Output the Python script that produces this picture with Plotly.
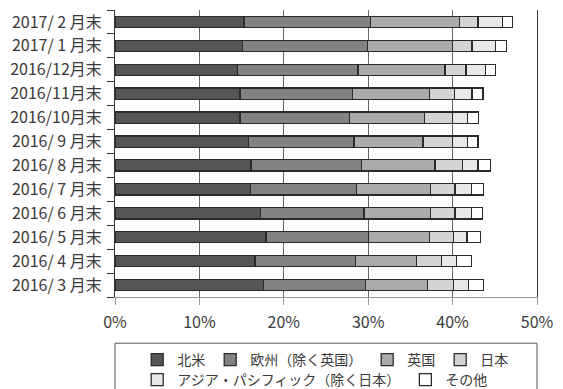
import plotly.graph_objects as go

categories = ["2016/ 3 月末", "2016/ 4 月末", "2016/ 5 月末", "2016/ 6 月末", "2016/ 7 月末",
              "2016/ 8 月末", "2016/ 9 月末", "2016/10月末", "2016/11月末", "2016/12月末",
              "2017/ 1 月末", "2017/ 2 月末"]

north_america = [17.6, 16.6, 17.9, 17.2, 16.05, 16.1, 15.8, 14.8, 14.8, 14.5, 15.1, 15.3]
europe_ex_uk = [12.1, 11.9, 12.1, 12.3, 12.55, 13.1, 12.5, 13.0, 13.3, 14.3, 14.8, 15.0]
uk = [7.3, 7.2, 7.3, 7.9, 8.8, 8.7, 8.2, 8.9, 9.2, 10.3, 10.05, 10.5]
japan = [3.1, 3.0, 2.8, 2.9, 2.9, 3.3, 3.45, 3.25, 2.9, 2.5, 2.35, 2.2]
asia_pacific_ex_japan = [1.8, 1.8, 1.6, 1.9, 1.9, 1.8, 1.85, 1.8, 2.1, 2.3, 2.8, 2.9]
others = [1.8, 1.7, 1.6, 1.35, 1.5, 1.5, 1.2, 1.3, 1.3, 1.2, 1.3, 1.2]

series_names = ["北米", "欧州（除く英国）", "英国", "日本", "アジア・パシフィック（除く日本）", "その他"]
series_values = [north_america, europe_ex_uk, uk, japan, asia_pacific_ex_japan, others]
series_colors = ["#555555", "#828282", "#ababab", "#d4d4d4", "#e8e8e8", "#ffffff"]
series_legend = ["legend", "legend", "legend", "legend", "legend2", "legend2"]

x_tick_values = [0, 10, 20, 30, 40, 50]
x_tick_labels = ["0%", "10%", "20%", "30%", "40%", "50%"]

FONT = "Noto Sans CJK JP"

fig = go.Figure()
for name, vals, col, lg in zip(series_names, series_values, series_colors, series_legend):
    fig.add_trace(go.Bar(
        y=categories, x=vals, name=name, orientation="h", legend=lg,
        marker=dict(color=col, line=dict(color="#2a2a2a", width=1.3)),
    ))

legend_common = dict(
    orientation="h", xref="paper", x=0.0526, xanchor="left",
    yref="container", yanchor="top",
    font=dict(family=FONT, size=14, color="#3a3a3a"),
    traceorder="normal", bgcolor="rgba(0,0,0,0)",
)

fig.update_layout(
    width=563, height=389,
    margin=dict(l=115, r=16, t=9, b=92),
    barmode="stack", bargap=0.53,
    plot_bgcolor="white", paper_bgcolor="white",
    font=dict(family=FONT, size=16, color="#3a3a3a"),
    showlegend=True,
    legend=dict(legend_common, y=(389 - 344) / 389),
    legend2=dict(legend_common, y=(389 - 364) / 389),
    xaxis=dict(
        range=[0, 50], tickvals=x_tick_values, ticktext=x_tick_labels,
        showgrid=True, gridcolor="#666666", gridwidth=1,
        showline=True, linecolor="#999999", linewidth=1,
        ticks="outside", ticklen=7, tickcolor="#999999",
        ticklabelstandoff=4, ticklabeloverflow="allow",
        zeroline=False, fixedrange=True,
    ),
    yaxis=dict(
        categoryorder="array", categoryarray=categories,
        showline=True, mirror=True, linecolor="#333333", linewidth=1,
        ticks="outside", ticklen=7, tickcolor="#333333", tickson="boundaries",
        ticklabelstandoff=9, showgrid=False, fixedrange=True,
    ),
    shapes=[dict(
        type="rect", xref="paper", yref="paper",
        x0=0, x1=1, y0=-0.34, y1=-0.161,
        line=dict(color="#555555", width=1), fillcolor="rgba(0,0,0,0)",
    )],
)

fig.write_html("out.html")
